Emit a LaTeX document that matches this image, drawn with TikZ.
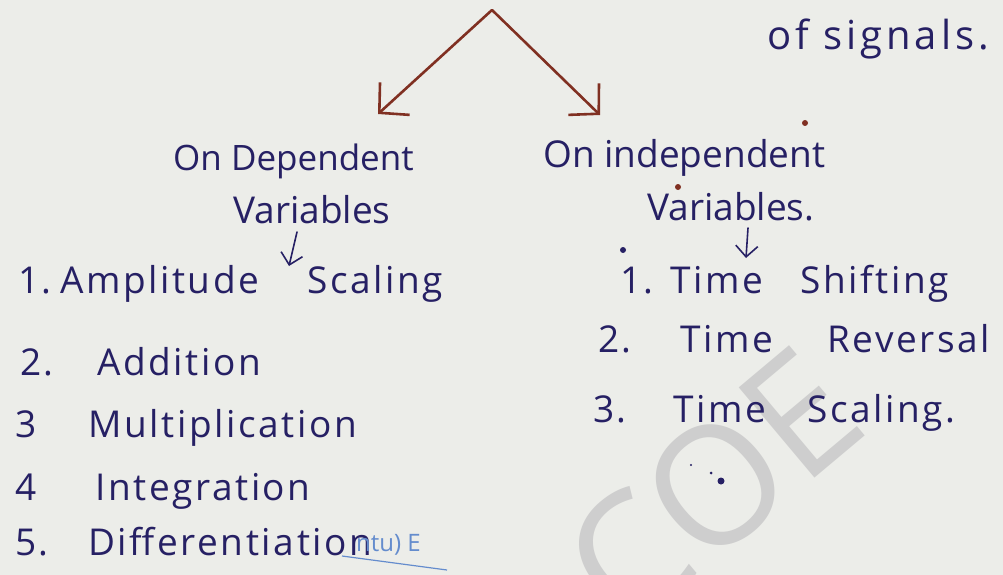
\documentclass[tikz,border=0pt]{standalone}
\usepackage{fontspec}
\setmainfont{Open Sans}
\newfontfamily\listfont[LetterSpace=7]{Open Sans}
\newfontfamily\sigfont[LetterSpace=10]{Open Sans}
\usetikzlibrary{arrows.meta}
\definecolor{paper}{RGB}{236,237,233}
\definecolor{ink}{RGB}{38,32,100}
\definecolor{redink}{RGB}{128,48,34}
\definecolor{wmark}{RGB}{206,206,206}
\definecolor{stampc}{RGB}{100,140,205}
\tikzset{
  txt/.style={text=ink, font=\listfont\fontsize{37}{40}\selectfont, anchor=base west, inner sep=0pt},
  head/.style={text=ink, font=\fontsize{37}{40}\selectfont, anchor=base west, inner sep=0pt},
  bigarrow/.style={draw=redink, line width=2.6pt, line cap=round, -{Straight Barb[length=21pt,width=44pt]}},
  smallarrow/.style={draw=ink, line width=1.6pt, line cap=round, -{Straight Barb[length=11pt,width=22pt]}},
  inkdot/.style={fill=#1, draw=none},
}
\begin{document}
\begin{tikzpicture}[x=1pt,y=-1pt]
\fill[paper] (0,0) rectangle (1003,575);
\useasboundingbox (0,0) rectangle (1003,575);
% watermark
\node[rotate=40, text=wmark, font=\fontsize{165}{165}\selectfont, inner sep=0pt] (wm) at (712,488) {COE};
% top
\node[head, font=\sigfont\fontsize{40}{44}\selectfont] (sig) at (767,50) {of signals.};
\coordinate (apex) at (492,10);
\coordinate (ltip) at (378,114);
\coordinate (rtip) at (600,115);
\draw[bigarrow] (apex) -- (ltip);
\draw[bigarrow] (apex) -- (rtip);
% left heading
\node[head, font=\fontsize{35}{38}\selectfont] (dh1) at (173,170) {On Dependent};
\node[head] (dh2) at (233,223) {Variables};
\coordinate (la0) at (297,232);
\coordinate (la1) at (289,266);
\draw[smallarrow] (la0) -- (la1);
% right heading
\node[head] (ih1) at (543,167) {On independent};
\node[head] (ih2) at (647,220) {Variables.};
\coordinate (ra0) at (748,228);
\coordinate (ra1) at (746,258);
\draw[smallarrow] (ra0) -- (ra1);
% left list
\node[txt] (n1) at (18,293) {1.};
\node[txt] (a1) at (60,293) {Amplitude};
\node[txt] (a1b) at (307,293) {Scaling};
\node[txt] (n2) at (20,375) {2.};
\node[txt] (a2) at (97,375) {Addition};
\node[txt] (n3) at (15,437) {3};
\node[txt] (a3) at (88,437) {Multiplication};
\node[txt] (n4) at (15,500) {4};
\node[txt] (a4) at (95,500) {Integration};
\node[txt] (n5) at (15,555) {5.};
\node[txt] (a5) at (88,555) {Differentiation};
\node[text=stampc, font=\fontsize{24}{26}\selectfont, anchor=base west, inner sep=0pt] (st) at (356,551) {ntu) E};
\coordinate (u0) at (342,556);
\coordinate (u1) at (447,570);
\draw[stampc, line width=1.2pt] (u0) -- (u1);
% right list
\node[txt] (m1) at (620,293) {1.};
\node[txt] (b1) at (670,293) {Time};
\node[txt] (b1b) at (800,293) {Shifting};
\node[txt] (m2) at (598,352) {2.};
\node[txt] (b2) at (680,352) {Time};
\node[txt] (b2b) at (827,352) {Reversal};
\node[txt] (m3) at (593,422) {3.};
\node[txt] (b3) at (673,422) {Time};
\node[txt] (b3b) at (807,422) {Scaling.};
% stray ink dots
\fill[inkdot=ink] (623,250) circle (3pt);
\fill[inkdot=redink] (678,187) circle (3pt);
\fill[inkdot=redink] (805,123) circle (3pt);
\fill[inkdot=ink] (721,481) circle (3.5pt);
\fill[inkdot=ink] (711,473) circle (1.5pt);
\fill[inkdot=ink] (691,465) circle (1.2pt);
\end{tikzpicture}
\end{document}
